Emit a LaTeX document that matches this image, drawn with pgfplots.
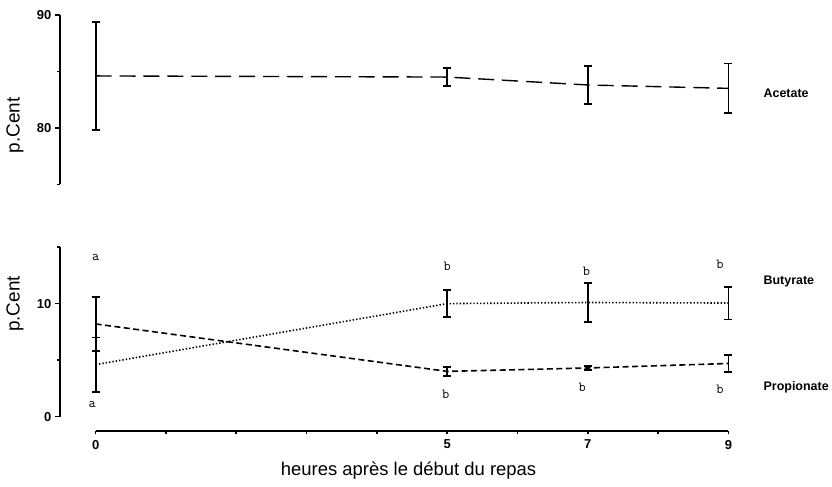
\documentclass[border=0pt]{standalone}
\usepackage{pgfplots}
\pgfplotsset{compat=1.18}
\usepackage{fontspec}
\setmainfont{Liberation Sans}
\tikzset{
  lbl/.style={font=\fontsize{12.5}{13}\selectfont\bfseries, anchor=west},
  letr/.style={font=\ttfamily\fontsize{14}{14}\selectfont},
}
\begin{document}
\begin{tikzpicture}[x=1pt,y=1pt]
\path (0,0) rectangle (832,488);
\pgfplotsset{
  panel/.style={
    scale only axis, clip=false,
    width=671pt, height=170pt,
    xmin=-0.51, xmax=9,
    axis x line=none, axis y line*=left,
    y axis line style={line width=2pt},
    tick align=outside,
    major tick length=5pt, minor tick length=3pt,
    tick style={line width=1.6pt, black},
    /pgf/number format/assume math mode=true,
    yticklabel style={font=\fontsize{13}{13}\selectfont\bfseries},
    anchor=south west,
  },
  eb/.style={error bars/.cd, y dir=both, y explicit,
    error bar style={line width=1.8pt, solid},
    error mark options={rotate=90, line width=1.8pt, mark size=4pt, solid}},
}
% top panel: Acetate
\begin{axis}[panel, at={(60pt,303pt)}, ymin=75, ymax=90,
  ytick={80,90}, minor ytick={75,85}]
\addplot[black, line width=1.4pt, dash pattern=on 16pt off 8pt, eb]
  coordinates {(0,84.6) +- (0,4.8) (5,84.5) +- (0,0.8) (7,83.8) +- (0,1.65) (9,83.5) +- (0,2.2)};
\node[lbl] at (axis cs:9.45,83.1) {Acetate};
\end{axis}
% bottom panel: Butyrate, Propionate
\begin{axis}[panel, at={(60pt,70pt)}, ymin=0, ymax=15,
  ytick={0,10}, minor ytick={5,15}]
\addplot[black, line width=1.6pt, dash pattern=on 1.4pt off 2pt, eb]
  coordinates {(0,4.6) +- (0,2.4) (5,10.0) +- (0,1.2) (7,10.1) +- (0,1.7) (9,10.05) +- (0,1.45)};
\addplot[black, line width=1.6pt, dash pattern=on 6pt off 3.5pt, eb]
  coordinates {(0,8.2) +- (0,2.4) (5,4.0) +- (0,0.4) (7,4.3) +- (0,0.15) (9,4.7) +- (0,0.75)};
\node[lbl] at (axis cs:9.45,12.0) {Butyrate};
\node[lbl] at (axis cs:9.45,2.6) {Propionate};
\node[letr] at (axis cs:0,14.1) {a};
\node[letr] at (axis cs:-0.05,1.1) {a};
\node[letr] at (axis cs:5,13.3) {b};
\node[letr] at (axis cs:6.98,12.9) {b};
\node[letr] at (axis cs:8.88,13.5) {b};
\node[letr] at (axis cs:4.98,2.0) {b};
\node[letr] at (axis cs:6.92,2.6) {b};
\node[letr] at (axis cs:8.88,2.4) {b};
\end{axis}
% x axis
\begin{axis}[scale only axis, at={(96pt,56pt)}, anchor=south west,
  width=635pt, height=1pt, xmin=0, xmax=9, ymin=0, ymax=1,
  axis y line=none, axis x line*=bottom,
  x axis line style={line width=2pt},
  xtick={0,5,7,9}, minor xtick={1,2,3,4,6,8},
  tick align=outside, major tick length=4pt, minor tick length=4pt,
  tick style={line width=1.6pt, black},
  /pgf/number format/assume math mode=true,
  xticklabel style={font=\fontsize{13}{13}\selectfont\bfseries, yshift=-2pt}]
\end{axis}
\node[rotate=90, font=\fontsize{19}{19}\selectfont] at (15,362) {p.Cent};
\node[rotate=90, font=\fontsize{19}{19}\selectfont] at (15,183) {p.Cent};
\node[font=\fontsize{18.5}{18}\selectfont] at (410,16) {heures après le début du repas};
\end{tikzpicture}
\end{document}
